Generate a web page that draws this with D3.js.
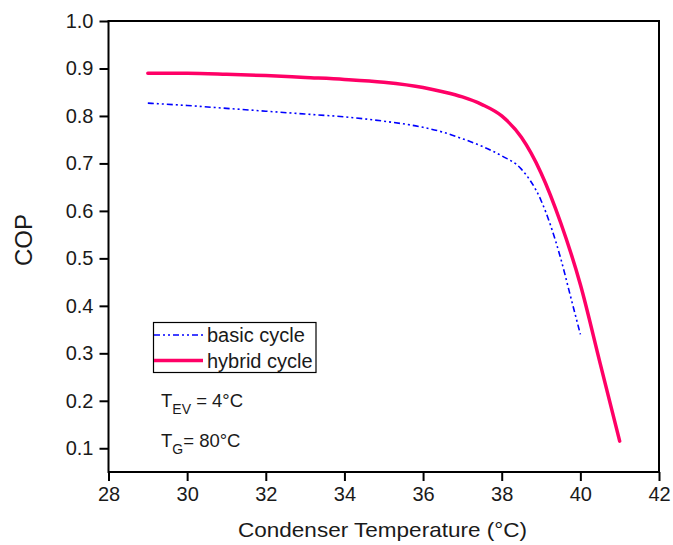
<!DOCTYPE html>
<html><head><meta charset="utf-8">
<script src="https://cdn.jsdelivr.net/npm/d3@7/dist/d3.min.js"></script>
<style>body{margin:0;background:#fff;} text{font-family:"Liberation Sans",Arial,sans-serif;fill:#1a1a1a;}</style>
</head><body>
<svg id="c" width="673" height="545"></svg>
<script>
const hybridX = [29,30,31,32,33,34,35,36,36.5,37,37.5,38,38.5,39,39.5,40,40.5,41];
const hybridY = [0.890,0.890,0.888,0.885,0.881,0.877,0.871,0.860,0.851,0.840,0.824,0.800,0.755,0.680,0.575,0.445,0.280,0.115];
const basicX = [29,30,31,32,33,34,35,36,36.5,37,37.5,38,38.5,39,39.5,39.75,40];
const basicY = [0.827,0.822,0.816,0.810,0.804,0.798,0.789,0.776,0.766,0.752,0.736,0.716,0.688,0.622,0.500,0.420,0.340];
const xTicks = [28,30,32,34,36,38,40,42];
const yTicks = [0.1,0.2,0.3,0.4,0.5,0.6,0.7,0.8,0.9,1.0];
const seriesNames = ["basic cycle","hybrid cycle"];

const svg = d3.select("#c");
const x = d3.scaleLinear().domain([28,42]).range([108.5,659]);
const y = d3.scaleLinear().domain([0.05,1.0]).range([472,21]);

// frame
svg.append("rect").attr("x",x(28)).attr("y",y(1.0)).attr("width",x(42)-x(28)).attr("height",y(0.05)-y(1.0))
  .attr("fill","none").attr("stroke","#000").attr("stroke-width",2);

// x axis
const xAx = svg.append("g").attr("transform",`translate(0,${y(0.05)})`);
xAx.call(d3.axisBottom(x).tickValues(d3.range(29,42,2)).tickSize(5).tickFormat(""));
xAx.call(d3.axisBottom(x).tickValues(xTicks).tickSize(9).tickPadding(6).tickFormat(d3.format("d")));
xAx.selectAll("path.domain").remove();
xAx.selectAll("line").attr("stroke","#000").attr("stroke-width",2);
xAx.selectAll("text").style("font-size","20px").style("font-family","Liberation Sans, Arial, sans-serif").attr("fill","#1a1a1a");

// y axis
const yAx = svg.append("g").attr("transform",`translate(${x(28)},0)`);
yAx.call(d3.axisLeft(y).tickValues(d3.range(0.15,1.0,0.1)).tickSize(5).tickFormat(""));
yAx.call(d3.axisLeft(y).tickValues(yTicks).tickSize(9).tickPadding(6).tickFormat(d3.format(".1f")));
yAx.selectAll("path.domain").remove();
yAx.selectAll("line").attr("stroke","#000").attr("stroke-width",2);
yAx.selectAll("text").style("font-size","20px").style("font-family","Liberation Sans, Arial, sans-serif").attr("fill","#1a1a1a");

// axis titles
svg.append("text").attr("x",238).attr("y",537).attr("textLength",289).attr("lengthAdjust","spacingAndGlyphs")
  .style("font-size","21px").text("Condenser Temperature (°C)");
svg.append("text").attr("transform","translate(32,240) rotate(-90)").attr("text-anchor","middle").style("font-size","24px").text("COP");

const line = d3.line().x(d=>x(d[0])).y(d=>y(d[1])).curve(d3.curveMonotoneX);
const basic = basicX.map((v,i)=>[v,basicY[i]]);
const hybrid = hybridX.map((v,i)=>[v,hybridY[i]]);
const dash = "6,3,2,3,2,3";
svg.append("path").datum(basic).attr("d",line).attr("fill","none").attr("stroke","#0000ff").attr("stroke-width",1.6).attr("stroke-dasharray",dash);
svg.append("path").datum(hybrid).attr("d",line).attr("fill","none").attr("stroke","#ff0066").attr("stroke-width",3.5).attr("stroke-linecap","round");

// legend
const lg = svg.append("g");
lg.append("rect").attr("x",153.5).attr("y",322.5).attr("width",162.5).attr("height",50).attr("fill","#fff").attr("stroke","#000").attr("stroke-width",1.2);
lg.append("line").attr("x1",154).attr("x2",203).attr("y1",335).attr("y2",335).attr("stroke","#0000ff").attr("stroke-width",1.6).attr("stroke-dasharray",dash);
lg.append("line").attr("x1",154).attr("x2",203).attr("y1",360.5).attr("y2",360.5).attr("stroke","#ff0066").attr("stroke-width",3.5);
lg.append("text").attr("x",207).attr("y",342).style("font-size","20px").text(seriesNames[0]);
lg.append("text").attr("x",207).attr("y",367.5).style("font-size","20px").text(seriesNames[1]);

// annotations
const a1 = svg.append("text").attr("x",161).attr("y",407).style("font-size","18.5px");
a1.append("tspan").text("T");
a1.append("tspan").attr("dy",7).style("font-size","14px").text("EV");
a1.append("tspan").attr("dy",-7).text(" = 4°C");
const a2 = svg.append("text").attr("x",161).attr("y",447).style("font-size","18.5px");
a2.append("tspan").text("T");
a2.append("tspan").attr("dy",7).style("font-size","14px").text("G");
a2.append("tspan").attr("dy",-7).text("= 80°C");
</script>
</body></html>
